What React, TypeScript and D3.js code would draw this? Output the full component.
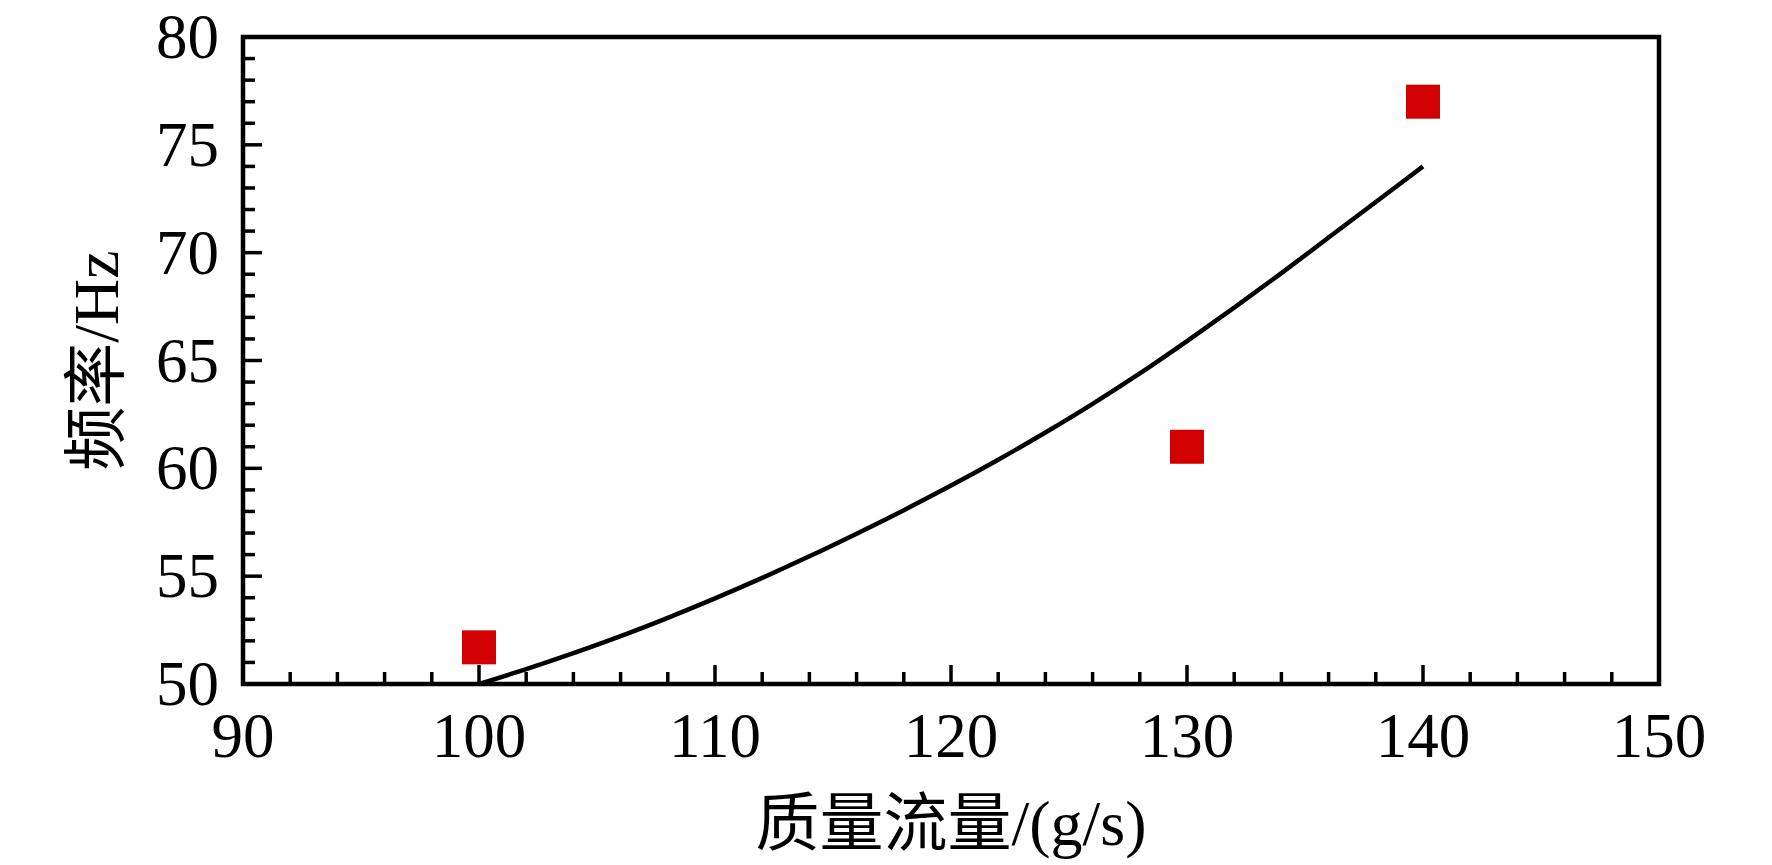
import React from "react";
import * as d3 from "d3";

const xTickValues = [90, 100, 110, 120, 130, 140, 150];
const yTickValues = [50, 55, 60, 65, 70, 75, 80];
const measuredX = [100, 130, 140];
const measuredY = [51.7, 61.0, 77.0];
const fitX = [100, 102, 104, 106, 108, 110, 112, 114, 116, 118, 120, 122, 124, 126, 128, 130, 132, 134, 136, 138, 140];
const fitY = [50.0, 50.69, 51.43, 52.22, 53.07, 53.97, 54.92, 55.92, 56.97, 58.06, 59.2, 60.4, 61.66, 62.99, 64.4, 65.9, 67.45, 69.05, 70.7, 72.35, 74.0];
const xTitle = "质量流量/(g/s)";
const yTitle = "频率/Hz";

const W = 1772;
const H = 865;
const L = 243, R = 1659, T = 37, B = 684;
const FONT = '"Liberation Serif", "Times New Roman", Times, "Noto Sans CJK SC", serif';

export default function App() {
  const x = d3.scaleLinear().domain([90, 150]).range([L, R]);
  const y = d3.scaleLinear().domain([50, 80]).range([B, T]);
  const line = d3
    .line<number>()
    .x((_, i) => x(fitX[i]))
    .y((d) => y(d))
    .curve(d3.curveMonotoneX);
  const yMinor = d3.range(51, 80, 1).filter((v) => v % 5 !== 0);
  const xMinor = d3.range(92, 150, 2).filter((v) => v % 10 !== 0);
  const sq = 34;
  const textStyle: React.CSSProperties = { fontFamily: FONT };
  return (
    <svg width={W} height={H} style={{ position: "absolute", left: 0, top: 0, background: "#fff" }}>
      <rect x={0} y={0} width={W} height={H} fill="#fff" />
      <path d={line(fitY) || ""} fill="none" stroke="#000" strokeWidth={4.5} strokeLinecap="butt" />
      {measuredX.map((v, i) => (
        <rect key={i} x={x(v) - sq / 2} y={y(measuredY[i]) - sq / 2} width={sq} height={sq} fill="#d20000" />
      ))}
      {yMinor.map((v) => (
        <line key={"ym" + v} x1={L} x2={L + 12} y1={y(v)} y2={y(v)} stroke="#000" strokeWidth={3.5} />
      ))}
      {yTickValues.map((v) => (
        <line key={"yM" + v} x1={L} x2={L + 19} y1={y(v)} y2={y(v)} stroke="#000" strokeWidth={3.5} />
      ))}
      {xMinor.map((v) => (
        <line key={"xm" + v} x1={x(v)} x2={x(v)} y1={B} y2={B - 12} stroke="#000" strokeWidth={3.5} />
      ))}
      {xTickValues.map((v) => (
        <line key={"xM" + v} x1={x(v)} x2={x(v)} y1={B} y2={B - 19} stroke="#000" strokeWidth={3.5} />
      ))}
      <rect x={L} y={T} width={R - L} height={B - T} fill="none" stroke="#000" strokeWidth={4.5} />
      {yTickValues.map((v) => (
        <text key={"yl" + v} x={L - 24} y={y(v) + 21} textAnchor="end" style={textStyle} fontSize={63} fill="#000">
          {v}
        </text>
      ))}
      {xTickValues.map((v) => (
        <text key={"xl" + v} x={x(v)} y={757} textAnchor="middle" style={textStyle} fontSize={63} fill="#000">
          {v}
        </text>
      ))}
      <text x={(L + R) / 2} y={845} textAnchor="middle" style={textStyle} fontSize={64} fill="#000">
        {xTitle}
      </text>
      <text
        transform={`translate(118, ${(T + B) / 2}) rotate(-90)`}
        textAnchor="middle"
        style={textStyle}
        fontSize={64}
        fill="#000"
      >
        {yTitle}
      </text>
    </svg>
  );
}
